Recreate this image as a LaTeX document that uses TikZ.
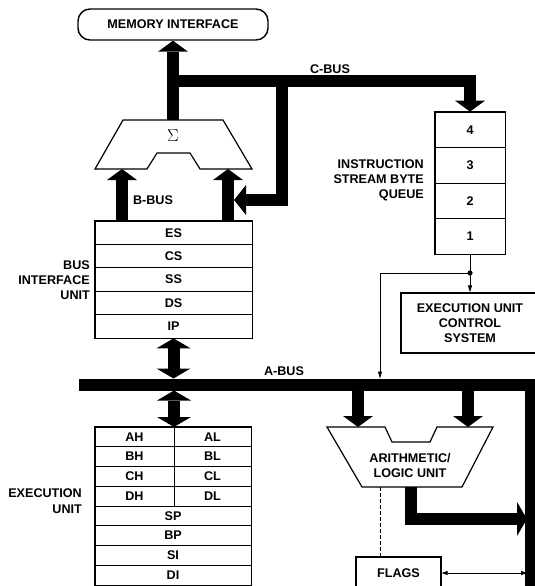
\documentclass[tikz,border=0pt]{standalone}
\usepackage{fontspec}
\setmainfont{Liberation Sans}
\usetikzlibrary{arrows.meta}
\begin{document}
\begin{tikzpicture}[x=1pt,y=-1pt,
  every node/.style={font=\fontsize{12.6}{15}\selectfont\bfseries, inner sep=0pt},
  bus/.style={line width=12pt, line join=miter},
  bigtip/.style={-{Triangle[width=30pt,length=11pt,line width=0pt]}},
  dbltip/.style={{Triangle[width=34pt,length=10pt,line width=0pt]}-{Triangle[width=34pt,length=10pt,line width=0pt]}},
  thinline/.style={line width=0.8pt},
  smalltip/.style={-{Triangle[width=4pt,length=7pt]}},
  row/.style={draw, line width=0.7pt},
  frame/.style={line width=1.4pt},
  shapeline/.style={line width=1.2pt, line join=miter}
]
\useasboundingbox (0,0) rectangle (535,586);

% memory interface
\node[draw, frame, rounded corners=12pt, minimum width=190pt, minimum height=31pt] (mem) at (173,24.5) {MEMORY INTERFACE};

% sigma adder
\draw[shapeline] (123,120) -- (223,120) -- (252,169) -- (200,169) -- (190,153) -- (157,153) -- (147,169) -- (95,169) -- cycle;
\node (sigma) at (173,136) {\fontsize{17}{17}\selectfont$\Sigma$};
\coordinate (sigtop) at (173,120);
\coordinate (sigbl) at (122,169);
\coordinate (sigbr) at (228,169);

% bus interface unit registers
\foreach \t/\y [count=\i] in {ES/232.7,CS/256.1,SS/279.5,DS/302.9,IP/326.3}
  \node[row, minimum width=157pt, minimum height=23.4pt] (biu\i) at (173.5,\y) {\t};
\draw[frame] (biu1.north west) rectangle (biu5.south east);
\node[align=right, anchor=east] (biulabel) at (90,280) {BUS\\INTERFACE\\UNIT};

% queue
\foreach \t/\y in {4/129.75,3/165.25,2/200.75,1/236.25}
  \node[row, minimum width=70pt, minimum height=35.5pt] (q\t) at (470,\y) {\t};
\draw[frame] (q4.north west) rectangle (q1.south east);
\node[align=right, anchor=east] (qlabel) at (424,180) {INSTRUCTION\\STREAM BYTE\\QUEUE};

% C-bus
\coordinate (cj1) at (167,81);
\coordinate (cj2) at (282,81);
\coordinate (btip) at (234,200);
\draw[bus, bigtip] (sigtop) -- (mem.south);
\draw[bus, bigtip] (cj1) -| (q4.north);
\draw[bus, -{Triangle[width=30pt,length=12pt,line width=0pt]}] (cj2) |- (btip);
\node (cbus) at (330,69) {C-BUS};

% B-bus
\draw[bus, bigtip] (sigbl |- biu1.north) -- (sigbl);
\draw[bus, bigtip] (sigbr |- biu1.north) -- (sigbr);
\node (bbus) at (153,200) {B-BUS};

% execution unit control system
\node[draw, frame, minimum width=138pt, minimum height=60pt, align=center] (eucs) at (470,323) {EXECUTION UNIT\\CONTROL\\SYSTEM};
\coordinate (dot) at (470,273);
\coordinate (abusin) at (380,378.5);
\draw[thinline] (q1.south) -- (dot);
\draw[thinline, smalltip] (dot) -- (eucs.north);
\draw[thinline, smalltip] (dot) -| (abusin);
\fill (dot) circle (2.6pt);

% A-bus
\coordinate (aL) at (79,384.5);
\coordinate (aR) at (531,384.5);
\coordinate (aEnd) at (531,592);
\coordinate (aTop) at (0,378.5);
\coordinate (aBotE) at (0,390.5);
\draw[bus] (aL) -- (aR) -- (aEnd);
\node (abus) at (284,371) {A-BUS};

% BIU <-> A-bus
\draw[bus, dbltip] (biu5.south) -- (biu5.south |- aTop);

% execution unit registers
\foreach \l/\r/\y [count=\i] in {AH/AL/436.9,BH/BL/456.6,CH/CL/476.4,DH/DL/496.1}{
  \node[row, minimum width=79pt, minimum height=19.75pt] (rl\i) at (134.5,\y) {\l};
  \node[row, minimum width=77pt, minimum height=19.75pt] (rr\i) at (212.5,\y) {\r};
}
\foreach \t/\y [count=\i] in {SP/515.9,BP/535.6,SI/555.4,DI/575.1}
  \node[row, minimum width=156pt, minimum height=19.75pt] (rw\i) at (173,\y) {\t};
\draw[frame] (rl1.north west) rectangle (rw4.south east);
\node[align=right, anchor=east, font=\fontsize{12.6}{16}\selectfont\bfseries] (eulabel) at (82,501) {EXECUTION\\UNIT};
\coordinate (eutop) at (174,427);
\draw[bus, dbltip] (eutop |- aBotE) -- (eutop);

% ALU
\draw[shapeline] (327,427) -- (385,427) -- (392,442) -- (430,442) -- (437,427) -- (493,427) -- (462,487) -- (362,487) -- cycle;
\node[align=center] (alu) at (410,465.5) {ARITHMETIC/\\LOGIC UNIT};
\coordinate (aluInL) at (358,427);
\coordinate (aluInR) at (468,427);
\coordinate (aluOut) at (411,487);
\coordinate (aluFl) at (380,487);
\coordinate (outTip) at (527,519);
\draw[bus, bigtip] (aluInL |- aBotE) -- (aluInL);
\draw[bus, bigtip] (aluInR |- aBotE) -- (aluInR);
\draw[bus, -{Triangle[width=34pt,length=10pt,line width=0pt]}] (aluOut) |- (outTip);

% flags
\node[draw, frame, minimum width=85pt, minimum height=32pt] (flags) at (398.5,573) {FLAGS};
\coordinate (rbar) at (527,0);
\draw[thinline, dashed, dash pattern=on 4pt off 2pt] (aluFl) -- (aluFl |- flags.north);
\draw[thinline, {Triangle[width=4pt,length=6pt]}-{Triangle[width=4pt,length=6pt]}] (flags.east) -- (flags.east -| rbar);
\end{tikzpicture}
\end{document}
